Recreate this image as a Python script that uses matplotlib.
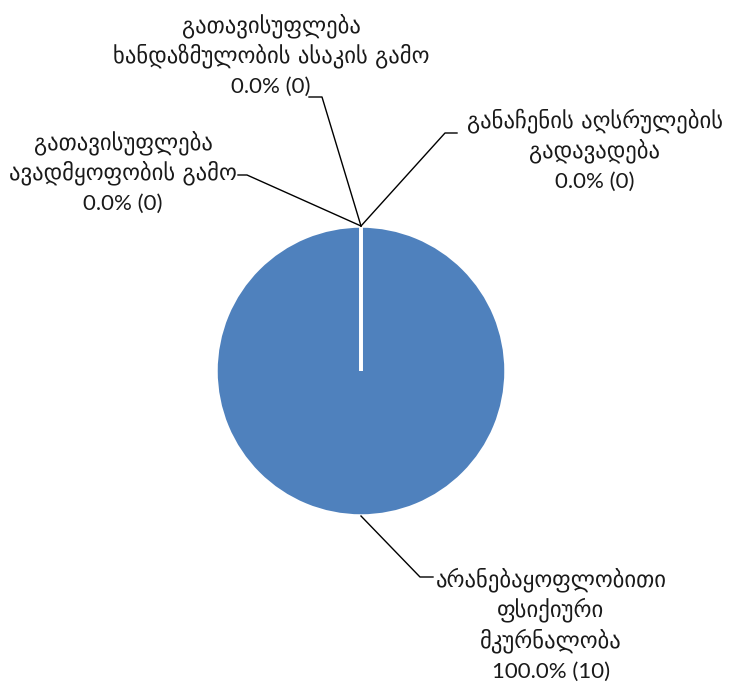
import matplotlib
matplotlib.use("Agg")
import matplotlib.pyplot as plt
import numpy as np

categories = [
    ["არანებაყოფლობითი", "ფსიქიური", "მკურნალობა"],
    ["გათავისუფლება", "ავადმყოფობის გამო"],
    ["გათავისუფლება", "ხანდაზმულობის ასაკის გამო"],
    ["განაჩენის აღსრულების", "გადავადება"],
]
values = [10, 0, 0, 0]

W, H = 729, 684
fig = plt.figure(figsize=(W / 100, H / 100), dpi=100)
ax = fig.add_axes([0, 0, 1, 1])

cx, cy, r = 361, H - 371, 145
wedges, _ = ax.pie(values, center=(cx, cy), radius=r, startangle=90,
                   counterclock=False, colors=["#4F81BD"] * 4,
                   wedgeprops=dict(edgecolor="white", linewidth=2.5))
ax.set_xlim(0, W)
ax.set_ylim(0, H)
ax.set_aspect("equal")
ax.axis("off")

total = sum(values)
# layout: (text center x, first baseline y from top, elbow x, elbow y, end x)
layout = [
    (551, 586, 420, 577, 433),
    (123, 149, 247, 175, 238),
    (271, 32, 322, 97, 309),
    (595, 127, 445, 133, 457),
]
step = 30.5
tcolor = "#1a1a1a"
for w, cat, v, (tx, ty, ex, ey, hx) in zip(wedges, categories, values, layout):
    ang = np.deg2rad((w.theta1 + w.theta2) / 2)
    sx, sy = cx + r * np.cos(ang), cy + r * np.sin(ang)
    ax.plot([sx, ex, hx], [sy, H - ey, H - ey], color="black", lw=1)
    lines = cat + [f"{100 * v / total:.1f}% ({v})"]
    for i, line in enumerate(lines):
        is_num = i == len(lines) - 1
        ax.text(tx, H - (ty + i * step), line, ha="center", va="baseline",
                fontsize=16 if is_num else 16.3,
                family=["Lato", "DejaVu Sans"] if is_num else ["DejaVu Sans"],
                color=tcolor)

fig.savefig("out.png", dpi=100)
